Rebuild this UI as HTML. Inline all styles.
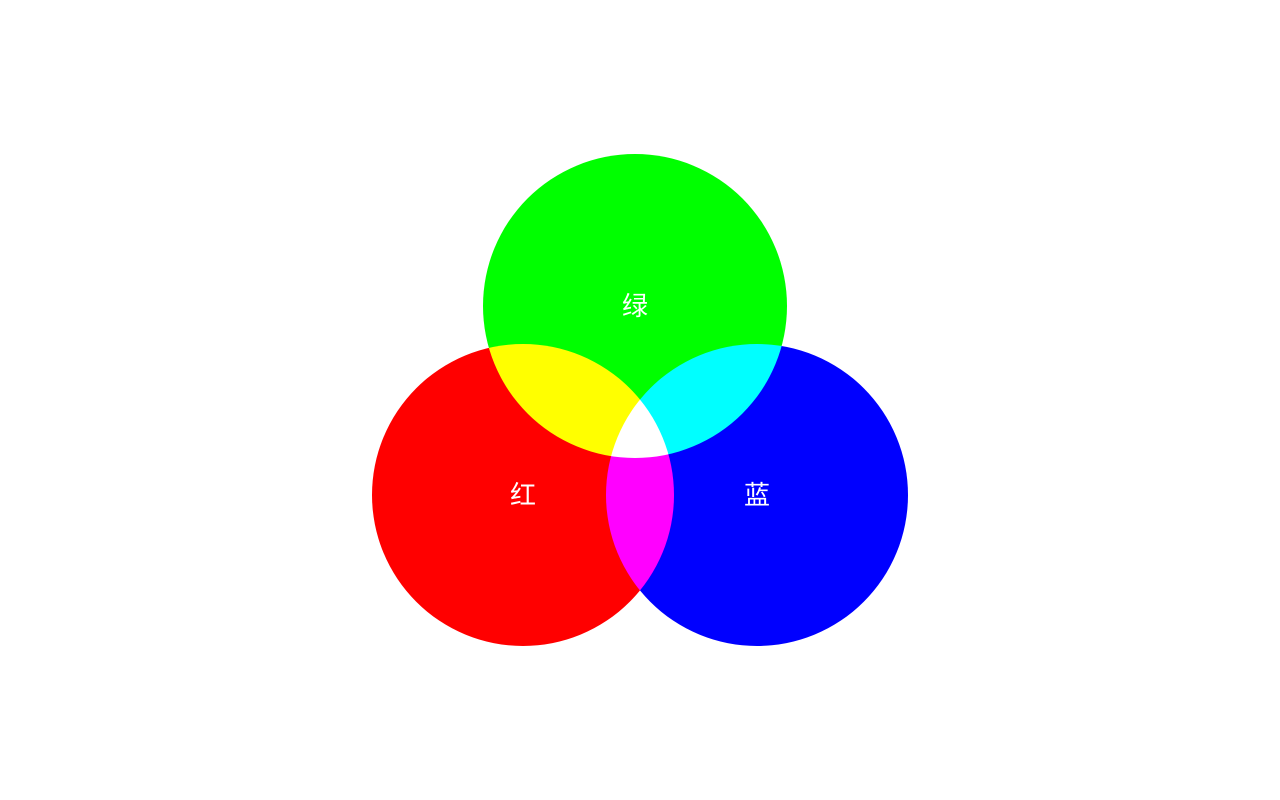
<!DOCTYPE html>
<html>
<head>
<meta charset="utf-8">
<style>
  html, body { margin: 0; padding: 0; background: #fff; width: 1280px; height: 800px; overflow: hidden; }
  svg { display: block; }
  .lbl { font-family: "Liberation Sans", "Noto Sans CJK SC", sans-serif; font-size: 26px; fill: #fff; }
</style>
</head>
<body>
<svg id="chart" width="1280" height="800">
  <g id="circles" style="isolation:isolate"></g>
  <g id="labels"></g>
</svg>
<script>
const setNames = ["绿", "红", "蓝"];
const setColors = ["#00ff00", "#ff0000", "#0000ff"];
const centerX = [635, 523, 757];
const centerY = [306, 495, 495];
const radii = [152, 151, 151];

const NS = "http://www.w3.org/2000/svg";
const cg = document.getElementById("circles");
const lg = document.getElementById("labels");
const keys = ["green", "red", "blue"];
for (let i = 0; i < setNames.length; i++) {
  const c = document.createElementNS(NS, "circle");
  c.setAttribute("cx", centerX[i]);
  c.setAttribute("cy", centerY[i]);
  c.setAttribute("r", radii[i]);
  c.setAttribute("fill", setColors[i]);
  c.style.mixBlendMode = "screen";
  
  
  cg.appendChild(c);

  const t = document.createElementNS(NS, "text");
  t.setAttribute("x", centerX[i]);
  t.setAttribute("y", centerY[i] + 9);
  t.setAttribute("text-anchor", "middle");
  t.setAttribute("class", "lbl");
  t.textContent = setNames[i];
  
  
  lg.appendChild(t);
}
</script>
</body>
</html>
